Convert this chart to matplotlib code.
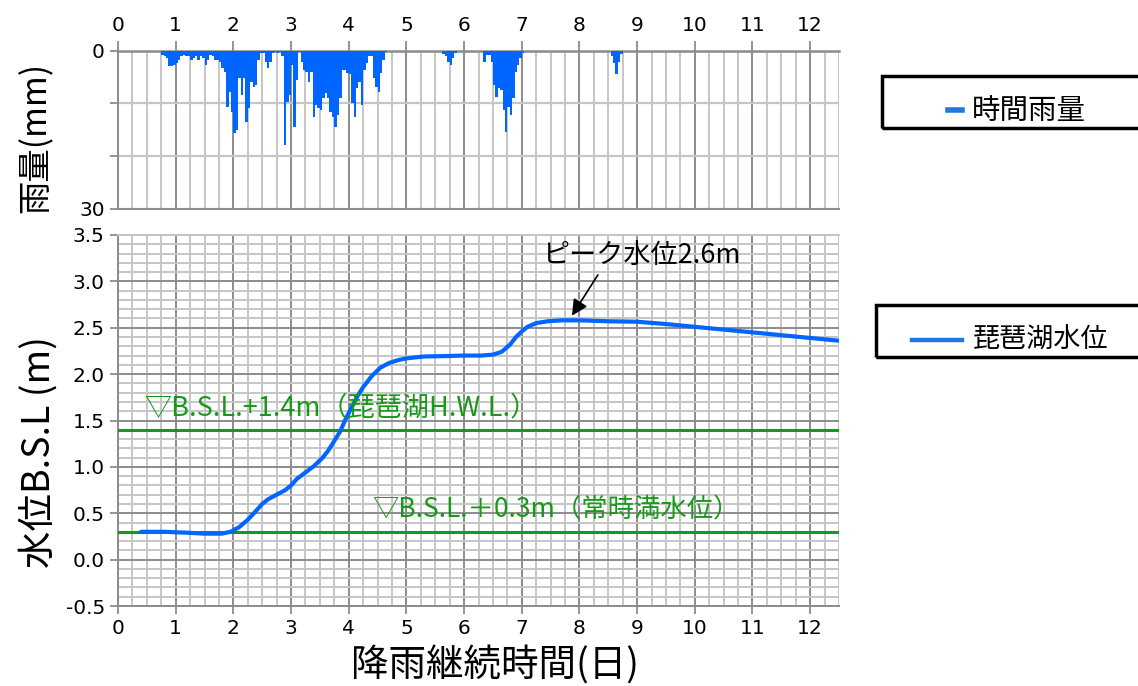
import numpy as np
import matplotlib
matplotlib.use('Agg')
import matplotlib.pyplot as plt
from matplotlib.patches import Rectangle
from matplotlib.lines import Line2D
from matplotlib.ticker import MultipleLocator, FixedLocator, FormatStrFormatter

plt.rcParams['font.family'] = ['DejaVu Sans', 'Noto Sans CJK JP']
JP = ['Noto Sans CJK JP', 'DejaVu Sans']

# hourly rainfall (mm), one list per storm, with the hour each one starts at
rain1_start = 18
rain1_mm = [0.8, 1.1, 1.5, 3.0, 3.0, 2.7, 2.4, 1.8, 1.1, 0.8,
            1.1, 1.1, 1.8, 1.5, 1.1, 1.8, 1.1, 1.5, 2.7, 1.8,
            0.8, 1.1, 1.8, 1.8, 2.1, 3.4, 4.0, 10.7, 7.8, 11.6,
            15.7, 15.1, 5.3, 8.4, 5.3, 13.5, 11.0, 5.9, 7.0, 6.5,
            1.8, 0.5, 0.5, 2.1, 3.4, 2.1, 0.5, 0.2, 0.5, 0.3,
            1.0, 18.0, 9.7, 8.4, 2.7, 14.5, 5.6, 0.3, 2.1, 3.7,
            4.0, 5.9, 4.0, 12.6, 10.3, 11.0, 11.3, 9.1, 8.1, 9.1,
            11.6, 12.6, 14.5, 12.2, 9.1, 3.7, 3.7, 4.3, 4.5, 10.0,
            12.6, 7.2, 5.9, 10.3, 3.7, 2.4, 1.1, 1.1, 5.3, 6.9,
            7.8, 4.3, 1.8, 0.3]
rain2_start = 135
rain2_mm = [0.7, 1.1, 2.2, 2.7, 1.5, 0.5]
rain3_start = 152
rain3_mm = [2.1, 0.8, 0.8, 2.1, 6.5, 8.8, 7.2, 7.5, 11.3, 15.4,
            10.7, 12.3, 9.1, 4.0, 2.7, 1.5, 0.5]
rain4_start = 205
rain4_mm = [1.1, 2.4, 4.5, 2.1, 0.7]

# lake water level (m, B.S.L.) against elapsed days
level_day = [0.4, 0.8, 1.2, 1.5, 1.8, 1.95, 2.1, 2.25, 2.4, 2.5,
             2.6, 2.75, 2.9, 3.0, 3.1, 3.25, 3.4, 3.55, 3.65, 3.75,
             3.85, 3.95, 4.05, 4.15, 4.25, 4.4, 4.55, 4.7, 4.85, 5.0,
             5.3, 5.7, 6.0, 6.3, 6.5, 6.65, 6.8, 6.9, 7.0, 7.1,
             7.25, 7.45, 7.7, 8.0, 8.5, 9.0, 9.5, 10.0, 10.5, 11.0,
             11.5, 12.0, 12.5]
level_m = [0.30, 0.30, 0.29, 0.28, 0.28, 0.30, 0.35, 0.43, 0.53, 0.60,
           0.65, 0.70, 0.75, 0.80, 0.87, 0.94, 1.01, 1.10, 1.18, 1.28,
           1.38, 1.52, 1.64, 1.76, 1.86, 1.98, 2.07, 2.12, 2.15, 2.17,
           2.19, 2.195, 2.20, 2.20, 2.21, 2.24, 2.32, 2.40, 2.46, 2.51,
           2.55, 2.57, 2.58, 2.58, 2.57, 2.565, 2.54, 2.51, 2.48, 2.45,
           2.42, 2.39, 2.36]

hwl = 1.4        # Lake Biwa high water level
normal = 0.3     # normal full water level
peak_day, peak_level = 7.87, 2.63

BLUE = '#0066ff'
GREEN = '#179a17'
MAJ = '#8c8c8c'
MIN = '#c6c6c6'
TICK_SIZE = 14.5

fig = plt.figure(figsize=(11.38, 6.86), dpi=100)
W, H = 1138, 686
left, width = 118 / W, 721 / W
ax_r = fig.add_axes([left, 1 - 208.5 / H, width, 158 / H])
ax_w = fig.add_axes([left, 1 - 606 / H, width, 371 / H])

# ---- rainfall (inverted bars hanging from the top)
for start, mm in [(rain1_start, rain1_mm), (rain2_start, rain2_mm),
                  (rain3_start, rain3_mm), (rain4_start, rain4_mm)]:
    days = (start + np.arange(len(mm))) / 24.0
    ax_r.bar(days, mm, width=1 / 24, align='edge', color=BLUE,
             linewidth=0, zorder=3)

ax_r.set_xlim(0, 12.5)
ax_r.set_ylim(30, 0)
ax_r.xaxis.set_major_locator(MultipleLocator(1))
ax_r.xaxis.set_minor_locator(MultipleLocator(0.25))
ax_r.yaxis.set_major_locator(FixedLocator([0, 10, 20, 30]))
ax_r.set_yticklabels(['0', '', '', '30'])
ax_r.xaxis.tick_top()
ax_r.tick_params(axis='x', which='major', top=True, bottom=False, length=7,
                 color=MAJ, width=1.3, labelsize=TICK_SIZE, pad=4)
ax_r.tick_params(axis='x', which='minor', top=False, bottom=False)
ax_r.tick_params(axis='y', length=6, color=MAJ, width=1.3,
                 labelsize=TICK_SIZE)
ax_r.grid(axis='x', which='major', color=MAJ, lw=1.4)
ax_r.grid(axis='x', which='minor', color=MIN, lw=1.4)
ax_r.grid(axis='y', which='major', color=MIN, lw=1.6)
ax_r.set_axisbelow(True)
ax_r.spines['right'].set_visible(False)
ax_r.spines['top'].set_color(MAJ)
ax_r.spines['top'].set_linewidth(1.8)
for side in ['left', 'bottom']:
    ax_r.spines[side].set_color(MAJ)
    ax_r.spines[side].set_linewidth(1.4)

# ---- water level
ax_w.plot(level_day, level_m, color=BLUE, lw=3.0, zorder=4,
          solid_capstyle='round')
ax_w.axhline(hwl, color=GREEN, lw=2.2, zorder=3)
ax_w.axhline(normal, color=GREEN, lw=2.2, zorder=3)
ax_w.text(0.45, hwl + 0.09, '▽B.S.L.+1.4m（琵琶湖H.W.L.）', family=JP,
          fontsize=19.5, color=GREEN, va='bottom', zorder=5)
ax_w.text(4.4, normal + 0.09, '▽B.S.L.＋0.3m（常時満水位）', family=JP,
          fontsize=19, color=GREEN, va='bottom', zorder=5)
ax_w.text(9.08, 3.28, 'ピーク水位2.6m', family=JP, fontsize=19.5,
          ha='center', va='center', zorder=6)
ax_w.annotate('', xy=(peak_day, peak_level), xytext=(8.32, 3.07),
              arrowprops=dict(arrowstyle='-|>', color='black', lw=1.2,
                              mutation_scale=24, shrinkA=0, shrinkB=0),
              zorder=6)

ax_w.set_xlim(0, 12.5)
ax_w.set_ylim(-0.5, 3.5)
ax_w.xaxis.set_major_locator(MultipleLocator(1))
ax_w.xaxis.set_minor_locator(MultipleLocator(0.25))
ax_w.yaxis.set_major_locator(MultipleLocator(0.5))
ax_w.yaxis.set_minor_locator(MultipleLocator(0.1))
ax_w.yaxis.set_major_formatter(FormatStrFormatter('%.1f'))
ax_w.tick_params(which='major', length=6, color=MAJ, width=1.3,
                 labelsize=TICK_SIZE)
ax_w.tick_params(which='minor', length=0)
ax_w.grid(which='major', color=MAJ, lw=1.4)
ax_w.grid(which='minor', color=MIN, lw=1.4)
ax_w.set_axisbelow(True)
ax_w.spines['right'].set_visible(False)
ax_w.spines['top'].set_color(MIN)
ax_w.spines['top'].set_linewidth(1.4)
for side in ['left', 'bottom']:
    ax_w.spines[side].set_color(MAJ)
    ax_w.spines[side].set_linewidth(1.4)

# axis titles
fig.text(36 / W, 1 - 137 / H, '雨量(mm)', family=JP, fontsize=24,
         rotation=90, ha='center', va='center')
fig.text(39 / W, 1 - 452 / H, '水位B.S.L (m)', family=JP, fontsize=27,
         rotation=90, ha='center', va='center')
fig.text(495 / W, 1 - 666 / H, '降雨継続時間(日)', family=JP, fontsize=27,
         ha='center', va='center')

# ---- legend boxes on the right
fig.patches.append(Rectangle((882 / W, 1 - 128 / H), 0.3, 52 / H,
                             transform=fig.transFigure, fill=False,
                             ec='black', lw=2.5))
fig.add_artist(Line2D([948 / W, 962 / W], [1 - 110 / H] * 2, color='#1f78e0',
                      lw=4, transform=fig.transFigure))
fig.text(972 / W, 1 - 111 / H, '時間雨量', family=JP, fontsize=20.5,
         va='center')

fig.patches.append(Rectangle((876 / W, 1 - 357 / H), 0.3, 52 / H,
                             transform=fig.transFigure, fill=False,
                             ec='black', lw=2.5))
fig.add_artist(Line2D([912 / W, 962 / W], [1 - 340 / H] * 2, color='#1f78e0',
                      lw=3.2, transform=fig.transFigure))
fig.text(973 / W, 1 - 340 / H, '琵琶湖水位', family=JP, fontsize=19.5,
         va='center')

fig.savefig('out.png', dpi=100)
